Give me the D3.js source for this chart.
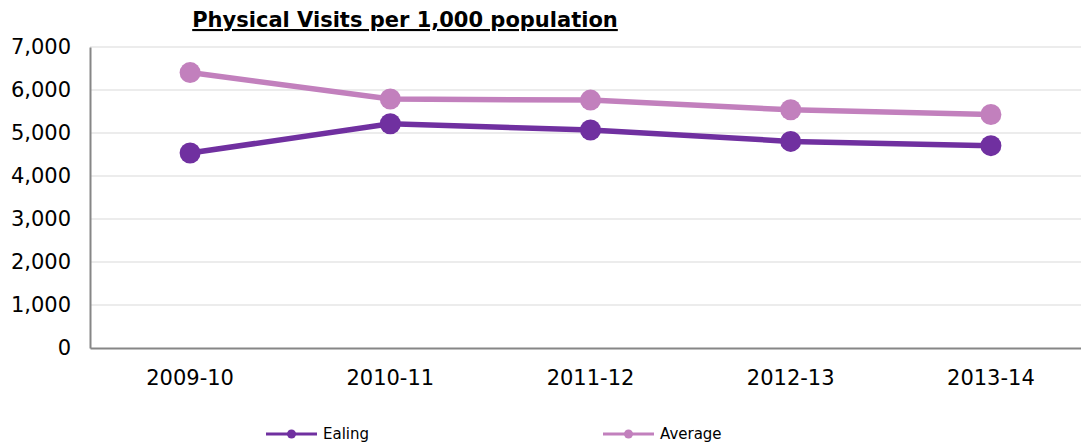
<!DOCTYPE html>
<html>
<head>
<meta charset="utf-8">
<script src="https://cdn.jsdelivr.net/npm/d3@7"></script>
<style>
  body { margin: 0; background: #fff; }
  svg { display: block; font-family: "DejaVu Sans", Verdana, sans-serif; }
</style>
</head>
<body>
<svg id="chart" width="1081" height="443"></svg>
<script>
var years = ["2009-10", "2010-11", "2011-12", "2012-13", "2013-14"];
var ealing = [4535, 5215, 5070, 4805, 4705];
var average = [6405, 5790, 5765, 5540, 5430];
var yTicks = [0, 1000, 2000, 3000, 4000, 5000, 6000, 7000];

var m = { left: 90, right: -10, top: 47, bottom: 95 };
var W = 1081, H = 443;
var w = W - m.left - m.right;   // plot runs past the right edge, as in the original
var h = H - m.top - m.bottom;

var svg = d3.select("#chart");
var chart = svg.append("g").attr("transform", "translate(" + m.left + "," + m.top + ")");

var x = d3.scaleBand().domain(years).range([0, w]);
var y = d3.scaleLinear().domain([0, 7000]).range([h, 0]);
var fmt = d3.format(",");

// gridlines
chart.append("g")
    .selectAll("line")
    .data(yTicks.filter(function (d) { return d > 0; }))
    .enter().append("line")
    .attr("x1", 0).attr("x2", w)
    .attr("y1", function (d) { return y(d); })
    .attr("y2", function (d) { return y(d); })
    .attr("stroke", "#d9d9d9")
    .attr("stroke-width", 1);

// y axis
var gY = chart.append("g")
    .call(d3.axisLeft(y).tickValues(yTicks).tickFormat(fmt).tickSize(0).tickPadding(19));
gY.attr("font-family", null);
gY.select(".domain").attr("stroke", "#868686").attr("stroke-width", 2);
gY.selectAll("text").style("font-size", "21px").attr("fill", "#000");

// x axis
var gX = chart.append("g")
    .attr("transform", "translate(0," + h + ")")
    .call(d3.axisBottom(x).tickSize(0).tickPadding(22));
gX.attr("font-family", null);
gX.select(".domain").attr("stroke", "#868686").attr("stroke-width", 2);
gX.selectAll("text").style("font-size", "21px").attr("fill", "#000");

var series = [
    { name: "Ealing", values: ealing, color: "#7030a0" },
    { name: "Average", values: average, color: "#c280bd" }
];

var line = d3.line()
    .x(function (d, i) { return x(years[i]) + x.bandwidth() / 2; })
    .y(function (d) { return y(d); });

// draw Average first so Ealing sits on top
series.slice().reverse().forEach(function (s) {
    chart.append("path")
        .attr("d", line(s.values))
        .attr("fill", "none")
        .attr("stroke", s.color)
        .attr("stroke-width", 5.5);
    chart.selectAll(null)
        .data(s.values)
        .enter().append("circle")
        .attr("cx", function (d, i) { return x(years[i]) + x.bandwidth() / 2; })
        .attr("cy", function (d) { return y(d); })
        .attr("r", 10.5)
        .attr("fill", s.color);
});

// title
svg.append("text")
    .attr("x", 405)
    .attr("y", 27)
    .attr("text-anchor", "middle")
    .style("font-size", "21px")
    .style("font-weight", "bold")
    .style("text-decoration", "underline")
    .text("Physical Visits per 1,000 population");

// legend
var legendX = [266, 603];
var leg = svg.selectAll(".legend")
    .data(series)
    .enter().append("g")
    .attr("class", "legend")
    .attr("transform", function (d, i) { return "translate(" + legendX[i] + ",434)"; });
leg.append("line")
    .attr("x1", 0).attr("x2", 51)
    .attr("stroke", function (d) { return d.color; })
    .attr("stroke-width", 3);
leg.append("circle")
    .attr("cx", 25.5)
    .attr("r", 4.5)
    .attr("fill", function (d) { return d.color; });
leg.append("text")
    .attr("x", 57)
    .attr("dy", "0.35em")
    .style("font-size", "15px")
    .text(function (d) { return d.name; });
</script>
</body>
</html>
